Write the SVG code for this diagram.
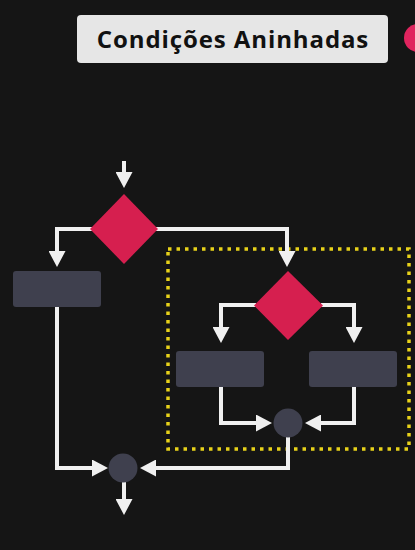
<svg xmlns="http://www.w3.org/2000/svg" width="415" height="550" viewBox="0 0 415 550">
<style>
.bg{fill:#151515}
.dia{fill:#d61f4f}
.box{fill:#3f404e}
.join{fill:#3f404e}
.ln{fill:none;stroke:#f0f0f0;stroke-width:4;stroke-linejoin:miter}
.title{font-family:"Open Sans","Liberation Sans",sans-serif;font-weight:700;font-size:24px;letter-spacing:0.9px;fill:#111}
</style>
<defs>
<marker id="ah" markerUnits="userSpaceOnUse" markerWidth="17" markerHeight="17" refX="5" refY="8.5" orient="auto">
<path d="M0,0 L16,8.5 L0,17 z" fill="#f0f0f0"/>
</marker>
</defs>
<rect class="bg" x="0" y="0" width="415" height="550"/>
<g id="title">
<rect x="77" y="15" width="311" height="48" rx="4" fill="#e6e6e6"/>
<text class="title" x="233" y="48" text-anchor="middle">Condições Aninhadas</text>
</g>
<circle cx="418" cy="38" r="14" fill="#e0245e"/>
<rect x="168" y="249" width="241" height="200" fill="none" stroke="#e8d21a" stroke-width="3.5" stroke-dasharray="3.5 5"/>
<g id="connectors">
<path class="ln" d="M124,161 V177" marker-end="url(#ah)"/>
<path class="ln" d="M92,229 H57 V256" marker-end="url(#ah)"/>
<path class="ln" d="M155,229 H287 V256" marker-end="url(#ah)"/>
<path class="ln" d="M57,307 V468 H97" marker-end="url(#ah)"/>
<path class="ln" d="M256,305 H221 V332" marker-end="url(#ah)"/>
<path class="ln" d="M321,305 H354 V332" marker-end="url(#ah)"/>
<path class="ln" d="M221,387 V423 H261" marker-end="url(#ah)"/>
<path class="ln" d="M354,387 V423 H316" marker-end="url(#ah)"/>
<path class="ln" d="M288,437 V468 H151" marker-end="url(#ah)"/>
<path class="ln" d="M124,482 V504" marker-end="url(#ah)"/>
</g>
<g id="decision1"><polygon class="dia" points="124,194 158,229 124,264 90,229"/></g>
<g id="process1"><rect class="box" x="13" y="271" width="88" height="36" rx="3"/></g>
<g id="decision2"><polygon class="dia" points="288,271 323,305.5 288,340 254,305.5"/></g>
<g id="process2"><rect class="box" x="176" y="351" width="88" height="36" rx="3"/></g>
<g id="process3"><rect class="box" x="309" y="351" width="88" height="36" rx="3"/></g>
<g id="join2"><circle class="join" cx="288" cy="423" r="14.5"/></g>
<g id="join1"><circle class="join" cx="123" cy="468" r="14.5"/></g>
</svg>
